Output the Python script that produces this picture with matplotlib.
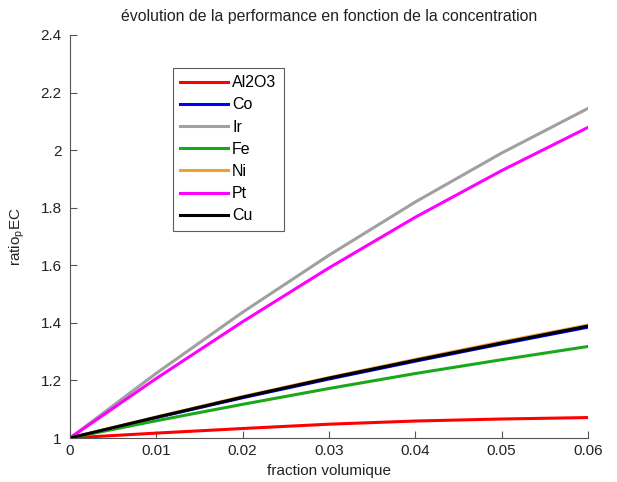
import matplotlib
matplotlib.use("Agg")
import matplotlib.pyplot as plt

plt.rcParams['font.family'] = ['Liberation Sans', 'DejaVu Sans']
plt.rcParams['mathtext.fontset'] = 'custom'
plt.rcParams['mathtext.rm'] = 'Liberation Sans'
plt.rcParams['mathtext.it'] = 'Liberation Sans'

x = [0.0, 0.01, 0.02, 0.03, 0.04, 0.05, 0.06]
al2o3 = [1.0, 1.017, 1.033, 1.048, 1.059, 1.066, 1.071]
co = [1.0, 1.071, 1.140, 1.205, 1.267, 1.327, 1.385]
ir = [1.0, 1.225, 1.437, 1.635, 1.820, 1.990, 2.145]
fe = [1.0, 1.060, 1.117, 1.172, 1.224, 1.272, 1.318]
ni = [1.0, 1.073, 1.144, 1.210, 1.273, 1.334, 1.392]
pt = [1.0, 1.207, 1.404, 1.591, 1.767, 1.929, 2.079]
cu = [1.0, 1.072, 1.142, 1.208, 1.270, 1.330, 1.389]

labels = ['Al2O3', 'Co', 'Ir', 'Fe', 'Ni', 'Pt', 'Cu']
series = [al2o3, co, ir, fe, ni, pt, cu]
colors = ['#ff0000', '#0000ff', '#a0a0a0', '#1aa81a', '#f0a030', '#ff00ff', '#000000']

xticks = [0, 0.01, 0.02, 0.03, 0.04, 0.05, 0.06]
xticklabels = ['0', '0.01', '0.02', '0.03', '0.04', '0.05', '0.06']
yticks = [1, 1.2, 1.4, 1.6, 1.8, 2, 2.2, 2.4]
yticklabels = ['1', '1.2', '1.4', '1.6', '1.8', '2', '2.2', '2.4']

fig = plt.figure(figsize=(6.17, 4.82), dpi=100)
ax = fig.add_axes([70/617, 1-438/482, 518/617, 403/482])

for y, lab, c in zip(series, labels, colors):
    ax.plot(x, y, color=c, lw=2.2, label=lab)

ax.set_xlim(0, 0.06)
ax.set_ylim(1, 2.4)
ax.set_xticks(xticks)
ax.set_xticklabels(xticklabels)
ax.set_yticks(yticks)
ax.set_yticklabels(yticklabels)

for s in ['top', 'right']:
    ax.spines[s].set_visible(False)
for s in ['left', 'bottom']:
    ax.spines[s].set_color('#555555')
    ax.spines[s].set_linewidth(0.8)

ax.tick_params(axis='both', direction='in', length=5, width=0.8, color='#555555',
               labelsize=11, labelcolor='#222222')
ax.tick_params(axis='x', pad=4)
ax.tick_params(axis='y', pad=6)

ax.set_title('évolution de la performance en fonction de la concentration',
             fontsize=11.4, pad=10, color='#222222')
ax.set_xlabel('fraction volumique', fontsize=11, labelpad=5, color='#222222')
ax.set_ylabel(r'ratio$_{\mathregular{p}}$EC', fontsize=11, labelpad=10, color='#222222')

leg = ax.legend(loc='upper left', bbox_to_anchor=((173-70)/518, (438-68)/403),
                fontsize=11.5, frameon=True, fancybox=False, edgecolor='#333333',
                handlelength=3.0, handletextpad=0.25, labelspacing=0.45,
                borderpad=0.45, borderaxespad=0)
leg.get_frame().set_linewidth(0.8)

fig.savefig('out.png', dpi=100)
